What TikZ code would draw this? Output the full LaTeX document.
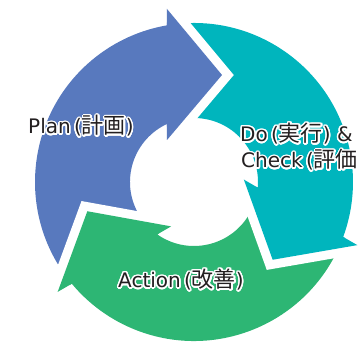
\documentclass[tikz,border=0pt]{standalone}
\usepackage{fontspec}
\setmainfont{DejaVu Sans}
\newfontfamily\cjk[Scale=1.1]{Noto Sans CJK JP}
\usepackage[copies]{contour}
\contourlength{1.4pt}
\contournumber{24}
\definecolor{planblue}{RGB}{88,121,190}
\definecolor{docyan}{RGB}{0,181,189}
\definecolor{actgreen}{RGB}{45,182,116}
\definecolor{ink}{RGB}{35,31,32}
\tikzset{
  lbl/.style={anchor=base west, inner sep=0pt, text=ink, font=\fontsize{20}{26}\selectfont},
  gapline/.style={draw=white, line width=18pt, line join=miter},
}
\begin{document}
\begin{tikzpicture}[x=1pt,y=1pt]
\useasboundingbox (-194,-160) rectangle (168,182);
% pass 1: whole arrows (body + head), tail reaching under previous head
\foreach \r/\c in {0/planblue,-120/docyan,120/actgreen}{
  \begin{scope}[rotate=\r]
    \fill[\c] (-27,42) -- (114.96:64) arc[start angle=114.96, end angle=232.02, radius=64]
      -- (218.68:159) arc[start angle=218.68, end angle=99.78, radius=159]
      -- (-27,173) -- (28,107) -- cycle;
  \end{scope}
}
% pass 2: white gaps along the slanted head edges
\foreach \r in {0,-120,120}{
  \begin{scope}[rotate=\r]
    \draw[gapline] (-27,173) -- (28,107) -- (-27,42);
  \end{scope}
}
% pass 3: heads on top
\foreach \r/\c in {0/planblue,-120/docyan,120/actgreen}{
  \begin{scope}[rotate=\r]
    \fill[\c] (-27,173) -- (28,107) -- (-27,42) -- cycle;
  \end{scope}
}
% labels
\node[lbl] (plan) at (-166,48) {\contour{white}{Plan\,({\cjk 計画})}};
\node[lbl] (do) at (46,40.3) {\contour{white}{Do\,({\cjk 実行}) \&}};
\node[lbl] (check) at (47,14) {\contour{white}{Check\,({\cjk 評価}}};
\node[lbl] (action) at (-76,-105.7) {\contour{white}{Action\,({\cjk 改善})}};
\end{tikzpicture}
\end{document}
